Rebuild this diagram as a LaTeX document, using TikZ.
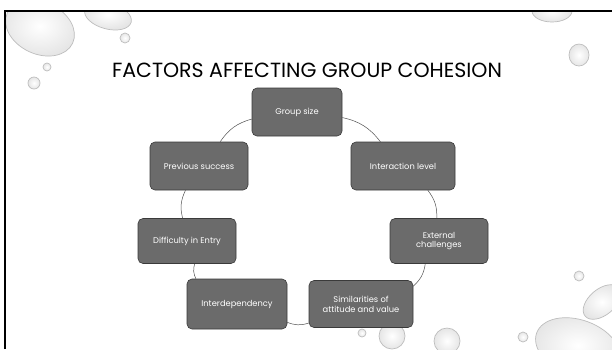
\documentclass[tikz,border=0pt]{standalone}
\usepackage{fontspec}
\setmainfont{Poppins}
\usetikzlibrary{positioning}

\definecolor{boxgray}{HTML}{6B6B6B}
\definecolor{boxedge}{HTML}{3A3A3A}
\definecolor{linkgray}{HTML}{505050}
\definecolor{dropedge}{HTML}{BDBDBD}

\begin{document}
\begin{tikzpicture}[x=1pt,y=-1pt,
  factor/.style={draw=boxedge, fill=boxgray, rounded corners=5pt, text=white,
    font=\fontsize{8.3}{9.8}\selectfont, align=center, inner sep=2pt,
    minimum height=48pt, line width=0.6pt},
  link/.style={draw=linkgray, line width=0.5pt},
  drop/.style={draw=dropedge, line width=0.7pt, inner color=white, outer color=gray!20}]

\useasboundingbox (0,0) rectangle (612,349);

% water drops behind the slide
\begin{scope}
  \clip (5,11) rectangle (612,349);
  \shade[drop, rotate around={-25:(40,28)}] (40,28) ellipse (36pt and 26pt);
  \shade[drop, rotate around={-15:(108,16)}] (108,16) ellipse (24pt and 13pt);
  \shade[drop] (125,38) circle (5pt);
  \shade[drop] (47,67) circle (4pt);
  \shade[drop] (34,83) circle (6pt);
  \shade[drop] (552,11) ellipse (20pt and 11pt);
  \shade[drop] (579,55) ellipse (10pt and 11pt);
  \shade[drop] (579,276) circle (5pt);
  \shade[drop, rotate around={40:(602,302)}] (602,302) ellipse (22pt and 13pt);
  \shade[drop, rotate around={-20:(578,348)}] (578,348) ellipse (44pt and 28pt);
  \shade[drop] (523,337) circle (5pt);
  \shade[drop] (362,333) circle (4pt);
  \shade[drop] (392,336) circle (13pt);
  \shade[drop] (447,341) circle (13pt);
\end{scope}

% slide frame
\draw[line width=1.5pt] (5,349) -- (5,11) -- (612,11);

\node[font=\fontsize{20.5}{24}\selectfont] (title) at (307,70)
  {FACTORS AFFECTING GROUP COHESION};

% define the factors
  \node[factor, minimum width=90pt]  (size)     at (297,112) {Group size};
  \node[factor, minimum width=98pt]  (success)  at (199,166) {Previous success};
  \node[factor, minimum width=104pt] (interact) at (403,166) {Interaction level};
  \node[factor, minimum width=98pt, minimum height=45pt]  (entry)    at (187,241) {Difficulty in Entry};
  \node[factor, minimum width=98pt, minimum height=45pt]  (external) at (439,241) {External\\challenges};
  \node[factor, minimum width=100pt, minimum height=50pt] (interdep) at (237,304) {Interdependency};
  \node[factor, minimum width=104pt, minimum height=47pt] (similar)  at (361,304) {Similarities of\\attitude and value};

% define the ring
  \path[link] (size) edge [bend left=20] (interact)
        (interact) edge [bend left=20] (external)
        (external) edge [bend left=20] (similar)
        (similar)  edge [bend left=20] (interdep)
        (interdep) edge [bend left=20] (entry)
        (entry)    edge [bend left=20] (success)
        (success)  edge [bend left=20] (size);

\end{tikzpicture}
\end{document}
